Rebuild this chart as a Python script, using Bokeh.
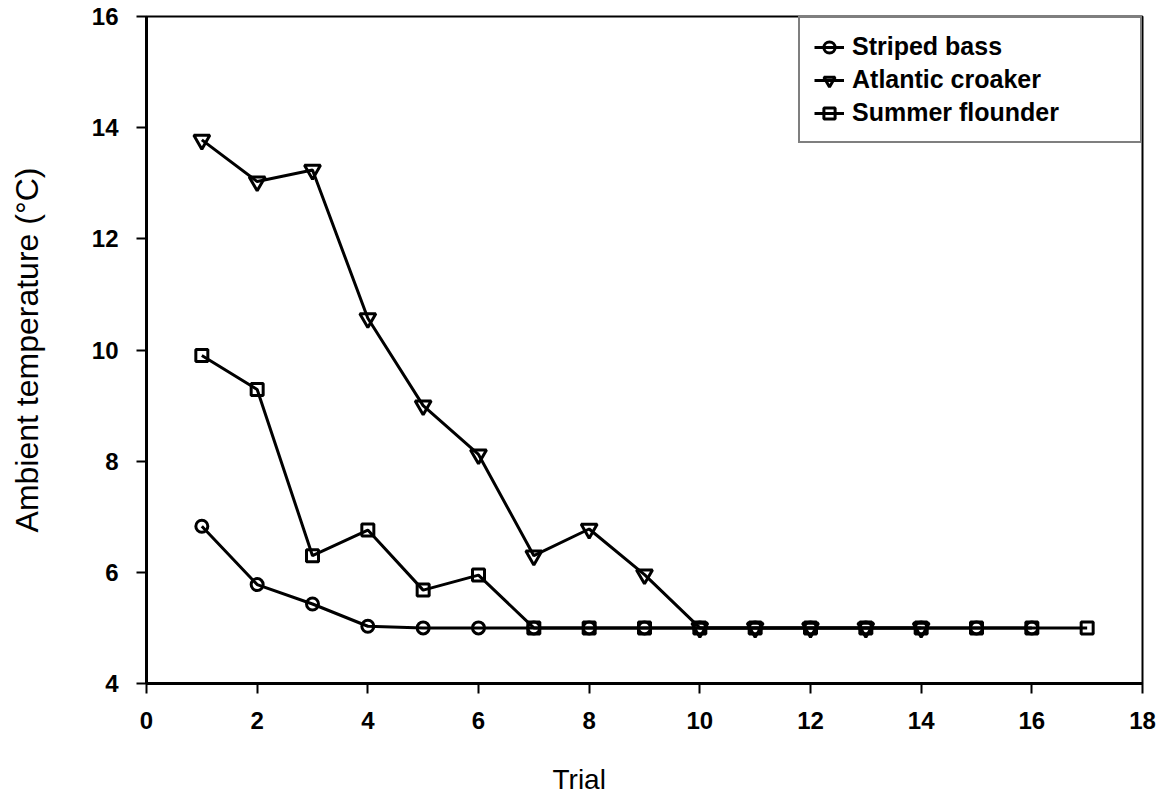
from bokeh.plotting import figure
from bokeh.models import Legend, LegendItem, Title, Range1d, FixedTicker
from bokeh.embed import file_html
from bokeh.resources import INLINE

# ---- data ----
x_ticks = [0, 2, 4, 6, 8, 10, 12, 14, 16, 18]
y_ticks = [4, 6, 8, 10, 12, 14, 16]

bass_trials = list(range(1, 17))
bass_temp = [6.83, 5.78, 5.43, 5.03, 5.0, 5.0, 5.0, 5.0, 5.0, 5.0, 5.0, 5.0, 5.0, 5.0, 5.0, 5.0]

croaker_trials = list(range(1, 15))
croaker_temp = [13.78, 13.03, 13.24, 10.57, 9.0, 8.12, 6.3, 6.78, 5.96, 5.0, 5.0, 5.0, 5.0, 5.0]

flounder_trials = list(range(1, 18))
flounder_temp = [9.9, 9.29, 6.3, 6.76, 5.68, 5.95, 5.0, 5.0, 5.0, 5.0, 5.0, 5.0, 5.0, 5.0, 5.0, 5.0, 5.0]

series_names = ["Striped bass", "Atlantic croaker", "Summer flounder"]
x_title = "Trial"
y_title = "Ambient temperature (°C)"

FONT = "Liberation Sans"

p = figure(width=1173, height=796, output_backend="svg", toolbar_location=None,
           x_range=Range1d(0, 18), y_range=Range1d(4, 16),
           min_border_left=146, min_border_right=31, min_border_top=16, min_border_bottom=112)
p.grid.visible = False
p.outline_line_color = "black"
p.outline_line_width = 2
p.background_fill_color = "white"
p.border_fill_color = "white"

for ax, ticks in ((p.xaxis, x_ticks), (p.yaxis, y_ticks)):
    ax.ticker = FixedTicker(ticks=ticks)
    ax.minor_tick_line_color = None
    ax.major_tick_in = 0
    ax.major_tick_out = 10
    ax.major_tick_line_width = 2
    ax.axis_line_width = 3
    ax.axis_line_color = "black"
    ax.major_tick_line_color = "black"
    ax.major_label_text_font = FONT
    ax.major_label_text_font_style = "bold"
    ax.major_label_text_font_size = "24px"
    ax.major_label_text_color = "black"

p.xaxis.major_label_standoff = 18
p.yaxis.major_label_standoff = 18

# spacer between the x tick labels and the x title placed below
p.xaxis.axis_label = " "
p.xaxis.axis_label_text_font_size = "1px"
p.xaxis.axis_label_standoff = 28

p.yaxis.axis_label = y_title
p.yaxis.axis_label_text_font = FONT
p.yaxis.axis_label_text_font_style = "normal"
p.yaxis.axis_label_text_font_size = "32px"
p.yaxis.axis_label_text_color = "black"
p.yaxis.axis_label_standoff = 44

lw = 3
l1 = p.line(bass_trials, bass_temp, line_color="black", line_width=lw)
s1 = p.scatter(bass_trials, bass_temp, marker="circle", size=12, line_color="black",
               line_width=lw, fill_alpha=0)
l3 = p.line(flounder_trials, flounder_temp, line_color="black", line_width=lw)
s3 = p.scatter(flounder_trials, flounder_temp, marker="square", size=12, line_color="black",
               line_width=lw, fill_alpha=0)
l2 = p.line(croaker_trials, croaker_temp, line_color="black", line_width=lw)
s2 = p.scatter(croaker_trials, croaker_temp, marker="inverted_triangle", size=16, line_color="black",
               line_width=lw, fill_alpha=0)

legend = Legend(items=[
    LegendItem(label=series_names[0], renderers=[l1, s1]),
    LegendItem(label=series_names[1], renderers=[l2, s2]),
    LegendItem(label=series_names[2], renderers=[l3, s3]),
], location="top_right", margin=0, padding=14, spacing=4,
    glyph_width=30, glyph_height=28, label_height=28, label_standoff=8, label_width=274,
    label_text_font=FONT, label_text_font_style="bold", label_text_font_size="25px",
    label_text_color="black",
    border_line_color="black", border_line_width=2,
    background_fill_color="white", background_fill_alpha=1)
p.add_layout(legend)

xlabel = Title(text=x_title, align="left", offset=406, vertical_align="top", standoff=0,
               text_font=FONT, text_font_style="normal", text_font_size="28px",
               text_color="black")
p.add_layout(xlabel, "below")

open("out.html", "w").write(file_html(p, INLINE))
